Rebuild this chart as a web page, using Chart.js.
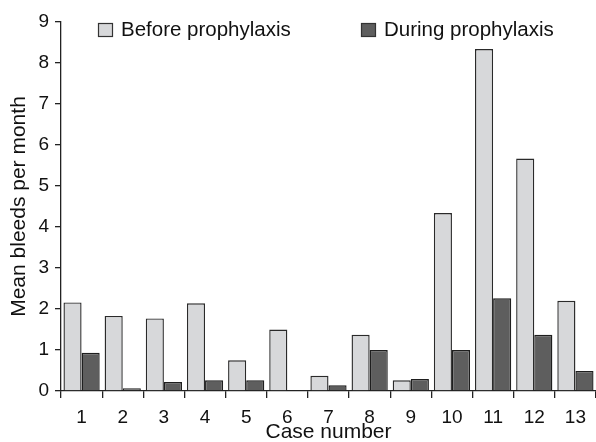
<!DOCTYPE html>
<html>
<head>
<meta charset="utf-8">
<script src="https://cdn.jsdelivr.net/npm/chart.js@4/dist/chart.umd.min.js"></script>
<style>
  html, body { margin: 0; padding: 0; background: #fff; }
  #wrap { width: 596px; height: 442px; position: relative; }
</style>
</head>
<body>
<div id="wrap"><canvas id="c"></canvas></div>
<script>
const categories = ['1','2','3','4','5','6','7','8','9','10','11','12','13'];
const beforeProphylaxis = [2.16, 1.83, 1.77, 2.14, 0.75, 1.50, 0.37, 1.37, 0.26, 4.34, 8.34, 5.67, 2.20];
const duringProphylaxis = [0.93, 0.07, 0.22, 0.26, 0.26, 0, 0.14, 1.00, 0.29, 1.00, 2.26, 1.37, 0.49];
const seriesLabels = ['Before prophylaxis', 'During prophylaxis'];
const yTicks = [0,1,2,3,4,5,6,7,8,9];

const FONT = "'Liberation Sans', Arial, Helvetica, sans-serif";

const insideLegend = {
  id: 'insideLegend',
  afterDraw(chart) {
    const ctx = chart.ctx;
    const area = chart.chartArea;
    const xs = [area.left + 37, area.left + 300];
    const top = area.top + 1;
    ctx.save();
    ctx.font = '20.5px ' + FONT;
    ctx.textBaseline = 'alphabetic';
    chart.data.datasets.forEach((ds, i) => {
      const x = xs[i];
      ctx.fillStyle = ds.backgroundColor;
      ctx.fillRect(x, top, 15, 14);
      ctx.strokeStyle = '#333';
      ctx.lineWidth = 1.2;
      ctx.strokeRect(x + 0.5, top + 0.5, 14, 13);
      ctx.fillStyle = '#111';
      ctx.fillText(ds.label, x + 23, area.top + 14);
    });
    ctx.restore();
  }
};

new Chart(document.getElementById('c'), {
  type: 'bar',
  data: {
    labels: categories,
    datasets: [
      { label: seriesLabels[0], data: beforeProphylaxis, backgroundColor: '#d7d8da', borderColor: '#2a2a2a', borderWidth: 1.4 },
      { label: seriesLabels[1], data: duringProphylaxis, backgroundColor: '#5e5e5e', borderColor: '#1e1e1e', borderWidth: 1.4 }
    ]
  },
  options: {
    responsive: true,
    maintainAspectRatio: false,
    animation: false,
    layout: { padding: { top: 22, right: 0, left: 0, bottom: 0 } },
    datasets: { bar: { categoryPercentage: 0.88, barPercentage: 1.0 } },
    plugins: { legend: { display: false }, tooltip: { enabled: false } },
    scales: {
      x: {
        offset: true,
        grid: { display: true, drawOnChartArea: false, offset: true, tickLength: 7, color: '#222', lineWidth: 1.3 },
        border: { display: true, color: '#222', width: 1.3 },
        ticks: { color: '#111', font: { size: 19, family: FONT }, padding: 8, maxRotation: 0, autoSkip: false },
        title: { display: true, text: 'Case number', color: '#111', font: { size: 21, family: FONT, lineHeight: 1 }, padding: { top: 0, bottom: -1 } },
        afterFit(scale) { scale.height = 51; }
      },
      y: {
        min: 0, max: 9,
        afterBuildTicks(scale) { scale.ticks = yTicks.map(v => ({ value: v })); },
        grid: { display: true, drawOnChartArea: false, tickLength: 6, color: '#222', lineWidth: 1.3 },
        border: { display: true, color: '#222', width: 1.3 },
        ticks: { color: '#111', font: { size: 19, family: FONT }, padding: 6 },
        title: { display: true, text: 'Mean bleeds per month', color: '#111', font: { size: 21, family: FONT, lineHeight: 1 }, padding: { top: 9, bottom: 0 } },
        afterFit(scale) { scale.width = 61; }
      }
    }
  },
  plugins: [insideLegend]
});
</script>
</body>
</html>
